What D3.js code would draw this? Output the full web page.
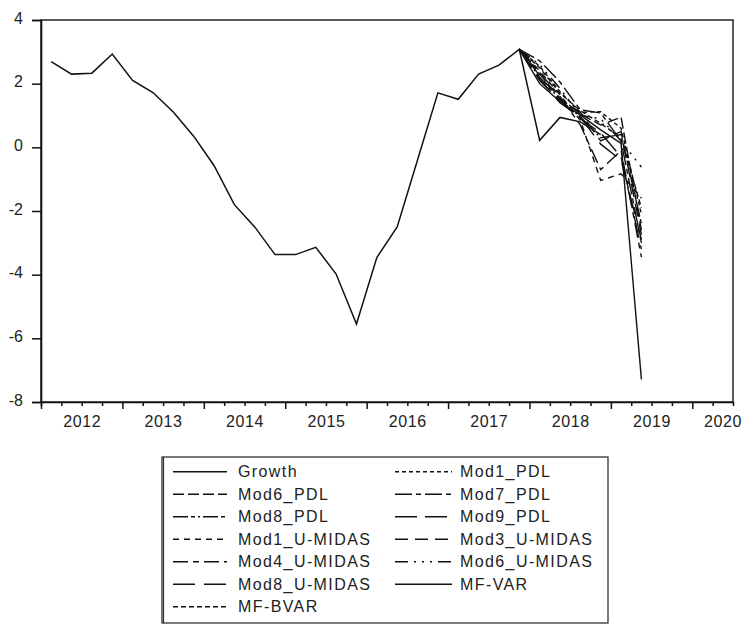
<!DOCTYPE html>
<html>
<head>
<meta charset="utf-8">
<script src="https://cdn.jsdelivr.net/npm/d3@7"></script>
<style>
  html, body { margin: 0; padding: 0; background: #fff; }
  svg { display: block; font-family: "Liberation Sans", Arial, sans-serif; }
</style>
</head>
<body>
<svg id="chart" width="745" height="624"></svg>
<script>
// Quarterly growth, observed history
const quarters = [
  "2012Q1","2012Q2","2012Q3","2012Q4",
  "2013Q1","2013Q2","2013Q3","2013Q4",
  "2014Q1","2014Q2","2014Q3","2014Q4",
  "2015Q1","2015Q2","2015Q3","2015Q4",
  "2016Q1","2016Q2","2016Q3","2016Q4",
  "2017Q1","2017Q2","2017Q3","2017Q4",
  "2018Q1","2018Q2","2018Q3","2018Q4"
];
const growth = [
  2.69, 2.30, 2.33, 2.93,
  2.10, 1.72, 1.11, 0.35,
  -0.57, -1.80, -2.50, -3.37,
  -3.37, -3.14, -3.98, -5.55,
  -3.46, -2.50, -0.40, 1.71,
  1.51, 2.30, 2.58, 3.08,
  0.22, 0.94, 0.80, 0.40
];

// Forecast horizon; every forecast path starts from the 2017Q4 observation
const originQuarter = "2017Q4";
const forecastQuarters = ["2018Q1","2018Q2","2018Q3","2018Q4","2019Q1","2019Q2"];

const mod1Pdl    = [2.55, 1.75, 1.10, 1.12, 0.60, -2.10];
const mod6Pdl    = [2.30, 1.55, 1.05, 0.70, 0.95, -2.60];
const mod7Pdl    = [2.72, 2.05, 1.18, 1.08, 0.20, -3.00];
const mod8Pdl    = [2.20, 1.50, 0.95, 0.30, 0.40, -2.40];
const mod9Pdl    = [2.10, 1.45, 0.90, 0.45, -0.30, -3.20];
const mod1UMidas = [2.40, 1.65, 0.85, -1.04, -0.83, -1.60];
const mod3UMidas = [2.25, 1.50, 1.10, 0.20, 0.50, -2.75];
const mod4UMidas = [2.35, 1.60, 0.70, -0.70, -0.10, -3.45];
const mod6UMidas = [2.60, 1.85, 1.00, 0.90, 0.20, -0.62];
const mod8UMidas = [2.15, 1.40, 0.95, 0.10, -0.40, -2.90];
const mfVar      = [2.00, 1.43, 1.01, 0.55, 0.12, -7.29];
const mfBvar     = [2.50, 1.70, 1.15, 0.75, 0.30, -1.90];

const seriesNames = ["Growth","Mod1_PDL","Mod6_PDL","Mod7_PDL","Mod8_PDL","Mod9_PDL",
  "Mod1_U-MIDAS","Mod3_U-MIDAS","Mod4_U-MIDAS","Mod6_U-MIDAS","Mod8_U-MIDAS","MF-VAR","MF-BVAR"];

const yTicks = [-8, -6, -4, -2, 0, 2, 4];
const yearLabels = ["2012","2013","2014","2015","2016","2017","2018","2019","2020"];

// Line styles per series
const dashes = {
  "Growth": null,
  "Mod1_PDL": "4,3",
  "Mod6_PDL": "11,4",
  "Mod7_PDL": "17,4,5,4",
  "Mod8_PDL": "15,3,4,3,2,3",
  "Mod9_PDL": "22,8",
  "Mod1_U-MIDAS": "6,5",
  "Mod3_U-MIDAS": "13,7",
  "Mod4_U-MIDAS": "15,5,6,5",
  "Mod6_U-MIDAS": "13,6,2,6,2,6,2,6",
  "Mod8_U-MIDAS": "22,9",
  "MF-VAR": null,
  "MF-BVAR": "5,3"
};

const forecastValues = {
  "Mod1_PDL": mod1Pdl, "Mod6_PDL": mod6Pdl, "Mod7_PDL": mod7Pdl, "Mod8_PDL": mod8Pdl,
  "Mod9_PDL": mod9Pdl, "Mod1_U-MIDAS": mod1UMidas, "Mod3_U-MIDAS": mod3UMidas,
  "Mod4_U-MIDAS": mod4UMidas, "Mod6_U-MIDAS": mod6UMidas, "Mod8_U-MIDAS": mod8UMidas,
  "MF-VAR": mfVar, "MF-BVAR": mfBvar
};

// "2014Q3" -> time at the middle of the quarter, in years
function qTime(q) {
  const yr = +q.slice(0, 4), n = +q.slice(5);
  return yr + (n - 0.5) / 4;
}

const svg = d3.select("#chart");
const plot = { left: 41, right: 733, top: 20, bottom: 402 };
const ink = "#111";

const x = d3.scaleLinear().domain([2012, 2020.5]).range([plot.left, plot.right]);
const y = d3.scaleLinear().domain([-8, 4]).range([plot.bottom, plot.top]);

// Frame
svg.append("rect")
  .attr("x", plot.left).attr("y", plot.top)
  .attr("width", plot.right - plot.left).attr("height", plot.bottom - plot.top)
  .attr("fill", "none").attr("stroke", "#333").attr("stroke-width", 1.6);

// Y axis (plain hyphen for negatives)
const yAxis = svg.append("g")
  .attr("transform", `translate(${plot.left},0)`)
  .call(d3.axisLeft(y).tickValues(yTicks).tickSize(9).tickPadding(9).tickFormat(d => String(d)));
yAxis.select(".domain").attr("stroke", ink).attr("stroke-width", 1.6);
yAxis.selectAll(".tick line").attr("stroke", ink).attr("stroke-width", 1.5);
yAxis.selectAll(".tick text")
  .attr("dy", "0.2em").attr("fill", "#222")
  .style("font-size", "16px").style("font-family", "'Liberation Sans', Arial, sans-serif");

// X axis: quarter ticks, year ticks, year labels centred on each year
const years = yearLabels.map(Number);
const quarterTicks = d3.range(2012, 2020.5, 0.25).filter(t => t % 1 !== 0);
const minorAxis = svg.append("g")
  .attr("transform", `translate(0,${plot.bottom})`)
  .call(d3.axisBottom(x).tickValues(quarterTicks).tickSize(4).tickFormat(""));
minorAxis.select(".domain").attr("stroke", ink).attr("stroke-width", 1.6);
minorAxis.selectAll(".tick line").attr("stroke", ink).attr("stroke-width", 1.5);

const majorAxis = svg.append("g")
  .attr("transform", `translate(0,${plot.bottom})`)
  .call(d3.axisBottom(x).tickValues(years).tickSize(7).tickFormat(""));
majorAxis.select(".domain").remove();
majorAxis.selectAll(".tick line").attr("stroke", ink).attr("stroke-width", 1.5);

const labelAxis = svg.append("g")
  .attr("transform", `translate(0,${plot.bottom})`)
  .call(d3.axisBottom(x).tickValues(years.map(v => v + 0.5)).tickSize(0).tickPadding(14)
        .tickFormat((d, i) => yearLabels[i]));
labelAxis.select(".domain").remove();
labelAxis.selectAll(".tick text")
  .attr("fill", "#222")
  .style("font-size", "16px").style("letter-spacing", "0.6px")
  .style("font-family", "'Liberation Sans', Arial, sans-serif");
// keep the last label inside the canvas
labelAxis.selectAll(".tick").each(function () {
  const t = d3.select(this).select("text");
  const bb = this.getBBox();
  const tr = d3.select(this).attr("transform");
  const tx = +/translate\(([-\d.]+)/.exec(tr)[1];
  const overflow = tx + bb.x + bb.width - 742;
  if (overflow > 0) t.attr("x", -overflow);
});

// Lines
const line = d3.line().x(d => x(d.t)).y(d => y(d.v));
const g = svg.append("g").attr("fill", "none");

const growthPts = quarters.map((q, i) => ({ t: qTime(q), v: growth[i] }));
const originIdx = quarters.indexOf(originQuarter);
const origin = { t: qTime(originQuarter), v: growth[originIdx] };

seriesNames.slice(1).forEach(name => {
  const pts = [origin].concat(forecastQuarters.map((q, i) => ({ t: qTime(q), v: forecastValues[name][i] })));
  g.append("path")
    .attr("d", line(pts))
    .attr("stroke", ink)
    .attr("stroke-width", 1.4)
    .attr("stroke-dasharray", dashes[name]);
});
g.append("path")
  .attr("d", line(growthPts))
  .attr("stroke", ink)
  .attr("stroke-width", 1.5);

// Legend
const leg = { x: 162, y: 457, w: 446, h: 166 };
const lg = svg.append("g");
lg.append("rect")
  .attr("x", leg.x).attr("y", leg.y).attr("width", leg.w).attr("height", leg.h)
  .attr("fill", "#fff").attr("stroke", "#333").attr("stroke-width", 1.3);
lg.append("line")
  .attr("x1", leg.x + 1.5).attr("x2", leg.x + 1.5).attr("y1", leg.y).attr("y2", leg.y + leg.h)
  .attr("stroke", "#333").attr("stroke-width", 1.2);

const cols = [{ x0: 173, x1: 227, tx: 238 }, { x0: 395, x1: 452, tx: 460 }];
seriesNames.forEach((name, i) => {
  const c = cols[i % 2];
  const ry = 471.7 + Math.floor(i / 2) * 22.5;
  lg.append("line")
    .attr("x1", c.x0).attr("x2", c.x1).attr("y1", ry).attr("y2", ry)
    .attr("stroke", ink).attr("stroke-width", 1.5)
    .attr("stroke-dasharray", dashes[name]);
  lg.append("text")
    .attr("x", c.tx).attr("y", ry).attr("dy", "0.36em")
    .attr("fill", "#222")
    .style("font-size", "16px").style("letter-spacing", "1.4px")
    .text(name);
});
</script>
</body>
</html>
